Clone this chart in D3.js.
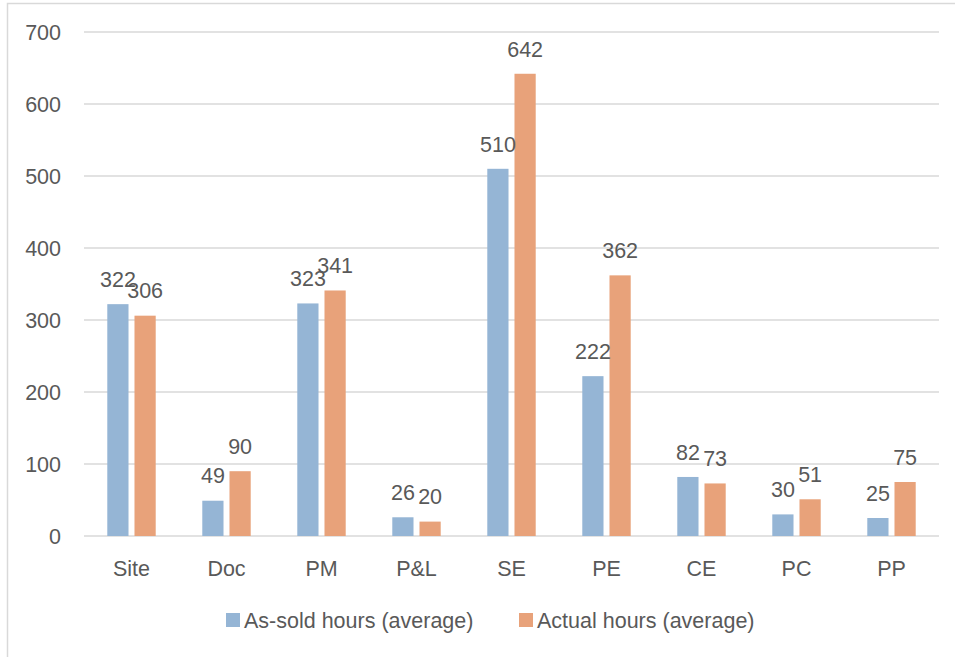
<!DOCTYPE html>
<html>
<head>
<meta charset="utf-8">
<script src="https://cdn.jsdelivr.net/npm/d3@7"></script>
<style>
  html, body { margin: 0; padding: 0; background: #ffffff; }
  svg { display: block; }
  text { font-family: "Liberation Sans", Arial, sans-serif; fill: #595959; }
</style>
</head>
<body>
<svg id="chart" width="955" height="657"></svg>
<script>
// Task categories along the x axis
const categories = ["Site", "Doc", "PM", "P&L", "SE", "PE", "CE", "PC", "PP"];
// Average hours per category
const asSoldHours = [322, 49, 323, 26, 510, 222, 82, 30, 25];
const actualHours = [306, 90, 341, 20, 642, 362, 73, 51, 75];
const seriesNames = ["As-sold hours (average)", "Actual hours (average)"];
const seriesColors = ["#95b5d5", "#e8a27a"];
const yTicks = [0, 100, 200, 300, 400, 500, 600, 700];

const svg = d3.select("#chart");
const W = 955, H = 657;
const plot = { left: 84, right: 939, top: 32, bottom: 536 };
const fontSize = 21.5;

// Outer chart frame
svg.append("rect")
  .attr("x", 7.5).attr("y", 3.5)
  .attr("width", W + 10).attr("height", H + 10)
  .attr("fill", "none").attr("stroke", "#d9d9d9").attr("stroke-width", 1.5);

const x0 = d3.scaleBand().domain(categories).range([plot.left, plot.right]).padding(0);
const x1 = d3.scaleBand().domain([0, 1]).range([-27.2, 27.2]).paddingInner(0.22).paddingOuter(0.11);
const y = d3.scaleLinear().domain([0, 700]).range([plot.bottom, plot.top]);

// Horizontal gridlines
svg.append("g")
  .selectAll("line")
  .data(yTicks)
  .join("line")
  .attr("x1", plot.left).attr("x2", plot.right)
  .attr("y1", d => y(d)).attr("y2", d => y(d))
  .attr("stroke", "#d9d9d9").attr("stroke-width", 1.5);

// Y axis labels
svg.append("g")
  .selectAll("text")
  .data(yTicks)
  .join("text")
  .attr("x", 61)
  .attr("y", d => y(d))
  .attr("dy", "0.36em")
  .attr("text-anchor", "end")
  .attr("font-size", fontSize)
  .text(d => d);

// Bars grouped by category
const rows = categories.map((c, i) => ({ cat: c, vals: [asSoldHours[i], actualHours[i]] }));
const groups = svg.append("g")
  .selectAll("g")
  .data(rows)
  .join("g")
  .attr("transform", d => `translate(${x0(d.cat) + x0.bandwidth() / 2},0)`);

groups.selectAll("rect")
  .data(d => d.vals.map((v, k) => ({ v, k })))
  .join("rect")
  .attr("x", d => x1(d.k))
  .attr("width", x1.bandwidth())
  .attr("y", d => y(d.v))
  .attr("height", d => y(0) - y(d.v))
  .attr("fill", d => seriesColors[d.k]);

// Value labels above each bar
groups.selectAll("text")
  .data(d => d.vals.map((v, k) => ({ v, k })))
  .join("text")
  .attr("x", d => x1(d.k) + x1.bandwidth() / 2)
  .attr("y", d => y(d.v) - 25)
  .attr("dy", "0.36em")
  .attr("text-anchor", "middle")
  .attr("font-size", fontSize)
  .text(d => d.v);

// Category labels
svg.append("g")
  .selectAll("text")
  .data(categories)
  .join("text")
  .attr("x", d => x0(d) + x0.bandwidth() / 2)
  .attr("y", 568)
  .attr("dy", "0.36em")
  .attr("text-anchor", "middle")
  .attr("font-size", fontSize)
  .text(d => d);

// Legend
const legendX = [226, 519];
const legend = svg.append("g")
  .selectAll("g")
  .data(seriesNames)
  .join("g")
  .attr("transform", (d, i) => `translate(${legendX[i]},620)`);
legend.append("rect")
  .attr("x", 0).attr("y", -7)
  .attr("width", 14).attr("height", 14)
  .attr("fill", (d, i) => seriesColors[i]);
legend.append("text")
  .attr("x", 18).attr("y", 0)
  .attr("dy", "0.36em")
  .attr("font-size", fontSize)
  .text(d => d);
</script>
</body>
</html>
